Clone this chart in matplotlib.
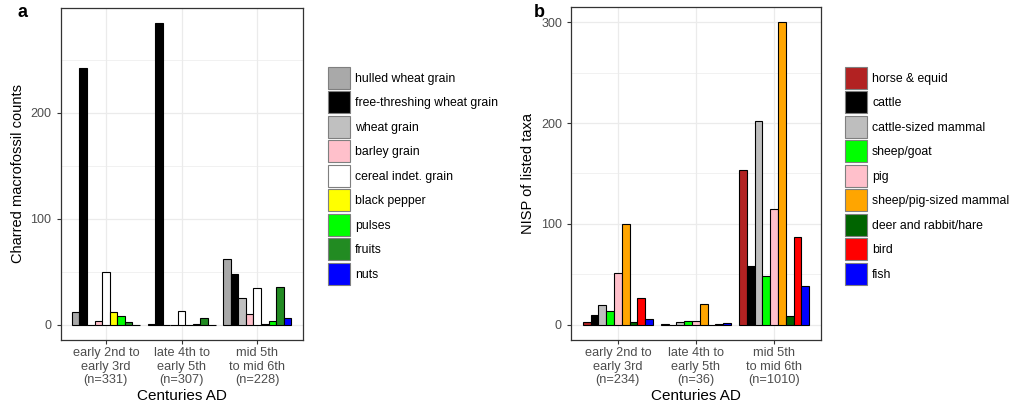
import matplotlib.pyplot as plt
from matplotlib.patches import Patch

plt.rcParams['font.family'] = ['Liberation Sans', 'DejaVu Sans']

# Panel a: charred plant macrofossils
periods_a = ['early 2nd to\nearly 3rd\n(n=331)', 'late 4th to\nearly 5th\n(n=307)', 'mid 5th\nto mid 6th\n(n=228)']
plants = ['hulled wheat grain', 'free-threshing wheat grain', 'wheat grain', 'barley grain',
          'cereal indet. grain', 'black pepper', 'pulses', 'fruits', 'nuts']
plant_colors = ['#A9A9A9', '#000000', '#C0C0C0', '#FFC0CB', '#FFFFFF', '#FFFF00', '#00FF00', '#228B22', '#0000FF']
plant_counts = {
    'hulled wheat grain':         [12, 1, 62],
    'free-threshing wheat grain': [242, 285, 48],
    'wheat grain':                [0, 0, 25],
    'barley grain':               [4, 0, 10],
    'cereal indet. grain':        [50, 13, 35],
    'black pepper':               [12, 0, 1],
    'pulses':                     [8, 1, 4],
    'fruits':                     [3, 6, 36],
    'nuts':                       [0, 0, 6],
}

# Panel b: animal bones
periods_b = ['early 2nd to\nearly 3rd\n(n=234)', 'late 4th to\nearly 5th\n(n=36)', 'mid 5th\nto mid 6th\n(n=1010)']
taxa = ['horse & equid', 'cattle', 'cattle-sized mammal', 'sheep/goat', 'pig',
        'sheep/pig-sized mammal', 'deer and rabbit/hare', 'bird', 'fish']
taxa_colors = ['#B22222', '#000000', '#BEBEBE', '#00FF00', '#FFC0CB', '#FFA500', '#006400', '#FF0000', '#0000FF']
nisp = {
    'horse & equid':          [3, 1, 153],
    'cattle':                 [10, 0, 58],
    'cattle-sized mammal':    [20, 3, 202],
    'sheep/goat':             [14, 4, 48],
    'pig':                    [51, 4, 115],
    'sheep/pig-sized mammal': [100, 21, 300],
    'deer and rabbit/hare':   [3, 0, 9],
    'bird':                   [27, 1, 87],
    'fish':                   [6, 2, 38],
}

fig = plt.figure(figsize=(10.14, 4.12), dpi=100)
ax_a = fig.add_axes([0.0597, 0.175, 0.2387, 0.806])
ax_b = fig.add_axes([0.5631, 0.175, 0.2465, 0.808])


def dodge_bars(ax, periods, names, colors, values, ylabel, ymax, yticks, yminor):
    n = len(names)
    w = 0.9 / n
    x = list(range(1, len(periods) + 1))
    for i, (name, col) in enumerate(zip(names, colors)):
        xs = [xi + (i - (n - 1) / 2) * w for xi in x]
        ax.bar(xs, values[name], width=w, color=col, edgecolor='black', linewidth=0.8, zorder=3)
    ax.set_xlim(0.4, len(periods) + 0.6)
    pad = ymax * 0.05
    ax.set_ylim(-pad, ymax + pad)
    ax.set_xticks(x)
    ax.set_xticklabels(periods, fontsize=9.2, color='#4D4D4D', linespacing=1.2)
    ax.set_yticks(yticks)
    ax.set_yticks(yminor, minor=True)
    ax.tick_params(axis='y', labelsize=9, labelcolor='#4D4D4D', color='#333333', length=3)
    ax.tick_params(axis='x', color='#333333', length=3, pad=2)
    ax.tick_params(which='minor', length=0)
    ax.grid(True, which='major', color='#EBEBEB', linewidth=0.9, zorder=0)
    ax.grid(True, which='minor', axis='y', color='#EBEBEB', linewidth=0.5, zorder=0)
    ax.set_axisbelow(True)
    for s in ax.spines.values():
        s.set_color('#333333')
        s.set_linewidth(0.9)
    ax.set_xlabel('Centuries AD', fontsize=11, labelpad=2)
    ax.set_ylabel(ylabel, fontsize=10.5, labelpad=4)


dodge_bars(ax_a, periods_a, plants, plant_colors, plant_counts,
           'Charred macrofossil counts', 285, [0, 100, 200], [50, 150, 250])
dodge_bars(ax_b, periods_b, taxa, taxa_colors, nisp,
           'NISP of listed taxa', 300, [0, 100, 200, 300], [50, 150, 250])

fig.text(0.017, 0.97, 'a', fontsize=13, fontweight='bold', va='center')
fig.text(0.526, 0.97, 'b', fontsize=13, fontweight='bold', va='center')


def key_legend(names, colors, anchor):
    handles = [Patch(facecolor=c, edgecolor='#7F7F7F', linewidth=0.8) for c in colors]
    fig.legend(handles, names, loc='upper left', bbox_to_anchor=anchor, frameon=False,
               fontsize=8.8, handlelength=1.8, handleheight=2.4, labelspacing=0.2,
               handletextpad=0.4, borderpad=0, borderaxespad=0)


key_legend(plants, plant_colors, (0.3235, 0.838))
key_legend(taxa, taxa_colors, (0.8335, 0.838))

fig.savefig('out.png', dpi=100)
